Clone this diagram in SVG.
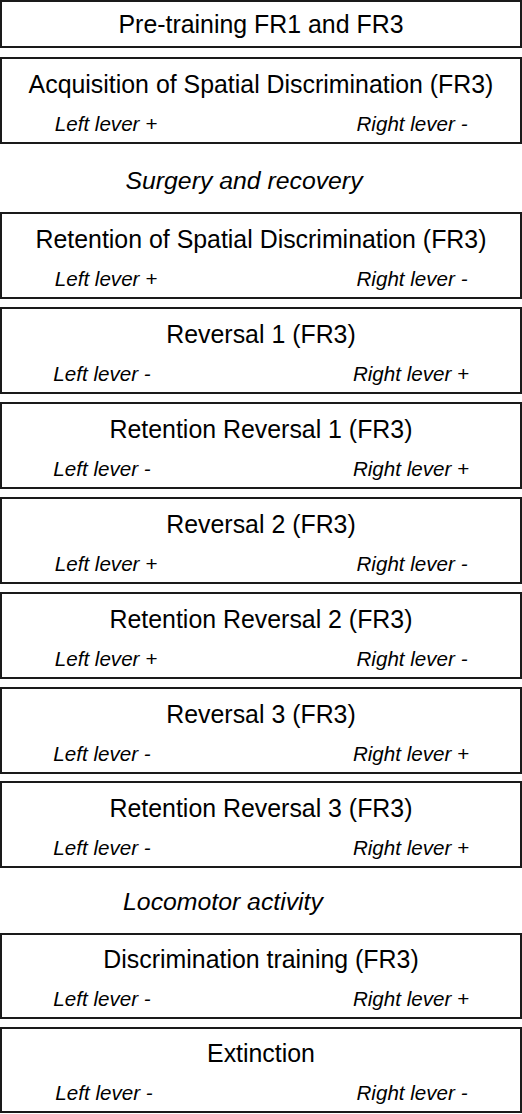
<svg xmlns="http://www.w3.org/2000/svg" width="522" height="1114" viewBox="0 0 522 1114">
<style>
.box{fill:#fff;stroke:#1a1a1a;stroke-width:2}
.t{font-family:"Liberation Sans",Arial,sans-serif;font-size:24.9px;fill:#000;text-anchor:middle}
.s{font-family:"Liberation Sans",Arial,sans-serif;font-size:20.6px;font-style:italic;fill:#000;text-anchor:middle}
.l{font-family:"Liberation Sans",Arial,sans-serif;font-size:24.8px;font-style:italic;fill:#000;text-anchor:middle}
</style>
<rect width="522" height="1114" fill="#fff"/>
<g id="n1"><rect class="box" x="1" y="1" width="520" height="46"/><text class="t" x="261" y="33">Pre-training FR1 and FR3</text></g>
<g id="n2"><rect class="box" x="1" y="58" width="520" height="85"/><text class="t" x="261" y="93">Acquisition of Spatial Discrimination (FR3)</text><text class="s" x="106" y="131">Left lever +</text><text class="s" x="412" y="131">Right lever -</text></g>
<g id="l1"><text class="l" x="244" y="189">Surgery and recovery</text></g>
<g id="n3"><rect class="box" x="1" y="213" width="520" height="85"/><text class="t" x="261" y="248">Retention of Spatial Discrimination (FR3)</text><text class="s" x="106" y="286">Left lever +</text><text class="s" x="412" y="286">Right lever -</text></g>
<g id="n4"><rect class="box" x="1" y="308" width="520" height="85"/><text class="t" x="261" y="343">Reversal 1 (FR3)</text><text class="s" x="102" y="381">Left lever -</text><text class="s" x="411" y="381">Right lever +</text></g>
<g id="n5"><rect class="box" x="1" y="403" width="520" height="85"/><text class="t" x="261" y="438">Retention Reversal 1 (FR3)</text><text class="s" x="102" y="476">Left lever -</text><text class="s" x="411" y="476">Right lever +</text></g>
<g id="n6"><rect class="box" x="1" y="498" width="520" height="85"/><text class="t" x="261" y="533">Reversal 2 (FR3)</text><text class="s" x="106" y="571">Left lever +</text><text class="s" x="412" y="571">Right lever -</text></g>
<g id="n7"><rect class="box" x="1" y="593" width="520" height="85"/><text class="t" x="261" y="628">Retention Reversal 2 (FR3)</text><text class="s" x="106" y="666">Left lever +</text><text class="s" x="412" y="666">Right lever -</text></g>
<g id="n8"><rect class="box" x="1" y="688" width="520" height="85"/><text class="t" x="261" y="723">Reversal 3 (FR3)</text><text class="s" x="102" y="761">Left lever -</text><text class="s" x="411" y="761">Right lever +</text></g>
<g id="n9"><rect class="box" x="1" y="782" width="520" height="85"/><text class="t" x="261" y="817">Retention Reversal 3 (FR3)</text><text class="s" x="102" y="855">Left lever -</text><text class="s" x="411" y="855">Right lever +</text></g>
<g id="l2"><text class="l" x="223" y="910">Locomotor activity</text></g>
<g id="n10"><rect class="box" x="1" y="934" width="520" height="84"/><text class="t" x="261" y="968">Discrimination training (FR3)</text><text class="s" x="102" y="1006">Left lever -</text><text class="s" x="411" y="1006">Right lever +</text></g>
<g id="n11"><rect class="box" x="1" y="1028" width="520" height="84"/><text class="t" x="261" y="1062">Extinction</text><text class="s" x="104" y="1100">Left lever -</text><text class="s" x="412" y="1100">Right lever -</text></g>
<g id="connectors"></g>
</svg>
